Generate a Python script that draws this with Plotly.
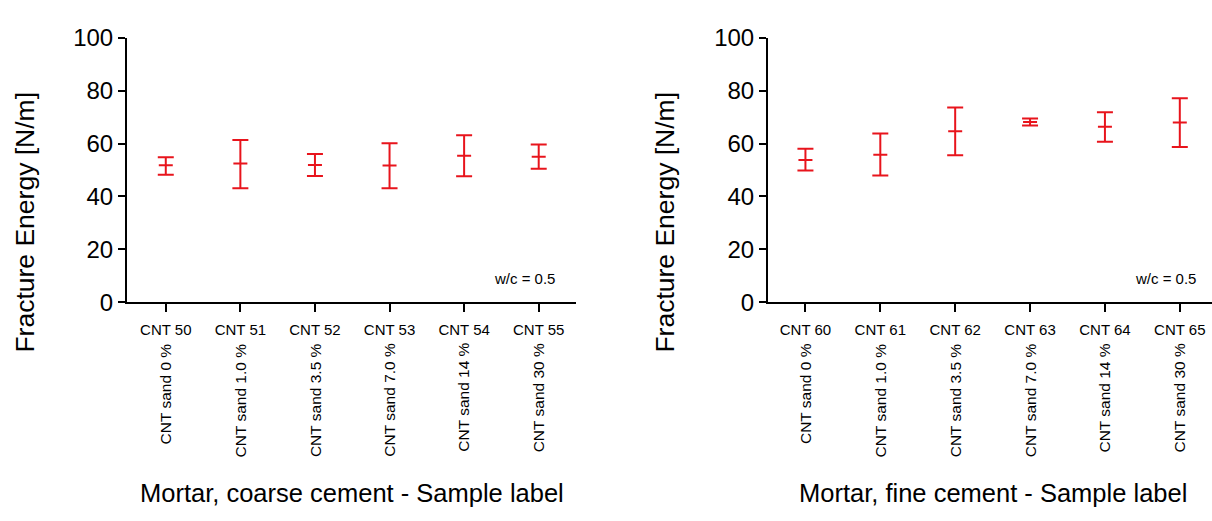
import plotly.graph_objects as go

# ---- data ----
coarse_labels = ["CNT 50", "CNT 51", "CNT 52", "CNT 53", "CNT 54", "CNT 55"]
coarse_sub = ["CNT sand 0 %", "CNT sand 1.0 %", "CNT sand 3.5 %", "CNT sand 7.0 %", "CNT sand 14 %", "CNT sand 30 %"]
coarse_mean = [51.8, 52.4, 51.9, 51.7, 55.4, 55.0]
coarse_upper = [54.8, 61.3, 56.0, 60.1, 63.1, 59.6]
coarse_lower = [48.2, 43.1, 47.7, 43.1, 47.6, 50.5]

fine_labels = ["CNT 60", "CNT 61", "CNT 62", "CNT 63", "CNT 64", "CNT 65"]
fine_sub = ["CNT sand 0 %", "CNT sand 1.0 %", "CNT sand 3.5 %", "CNT sand 7.0 %", "CNT sand 14 %", "CNT sand 30 %"]
fine_mean = [53.8, 55.8, 64.6, 68.1, 66.3, 67.9]
fine_upper = [58.0, 63.8, 73.6, 69.5, 71.8, 77.1]
fine_lower = [49.8, 47.9, 55.6, 66.8, 60.7, 58.7]

y_ticks = [0, 20, 40, 60, 80, 100]

RED = "#E8141C"
FONT = "Liberation Sans, Arial, sans-serif"
W, H = 1212, 521


def px_y(p):
    return 1 - p / H


def trace(labels, mean, upper, lower, xa, ya):
    return go.Scatter(
        x=labels, y=mean, xaxis=xa, yaxis=ya, mode="markers",
        marker=dict(symbol="line-ew", size=10, color=RED, line=dict(color=RED, width=2)),
        error_y=dict(type="data", symmetric=False,
                     array=[u - m for u, m in zip(upper, mean)],
                     arrayminus=[m - l for m, l in zip(mean, lower)],
                     color=RED, thickness=2, width=8),
        showlegend=False, hoverinfo="skip",
    )


fig = go.Figure()
fig.add_trace(trace(coarse_labels, coarse_mean, coarse_upper, coarse_lower, "x", "y"))
fig.add_trace(trace(fine_labels, fine_mean, fine_upper, fine_lower, "x2", "y2"))

ydom = [px_y(304), px_y(25)]
xcommon = dict(type="category", showline=True, linecolor="black", linewidth=2,
               ticks="outside", ticklen=8, tickwidth=2, tickcolor="black",
               showgrid=False, zeroline=False, ticklabelstandoff=5,
               tickfont=dict(family=FONT, size=15, color="black"))
ycommon = dict(range=[0, 100], tickvals=y_ticks, showline=True, linecolor="black", linewidth=2,
               ticks="outside", ticklen=7, tickwidth=2, tickcolor="black",
               showgrid=False, zeroline=False, domain=ydom,
               tickfont=dict(family=FONT, size=24, color="black"))

fig.update_layout(
    width=W, height=H, margin=dict(l=0, r=0, t=0, b=0),
    paper_bgcolor="white", plot_bgcolor="white",
    xaxis=dict(domain=[127 / W, 576 / W], range=[-0.52, 5.5], anchor="y", **xcommon),
    yaxis=dict(anchor="x", **ycommon),
    xaxis2=dict(domain=[768 / W, 1.0], range=[-0.5, 5.43], anchor="y2", **xcommon),
    yaxis2=dict(anchor="x2", **ycommon),
)

ann = []
for xr, labels, subs in [("x", coarse_labels, coarse_sub), ("x2", fine_labels, fine_sub)]:
    for lab, s in zip(labels, subs):
        ann.append(dict(x=lab, xref=xr, y=px_y(345), yref="paper", text=s, textangle=-90,
                        showarrow=False, xanchor="center", yanchor="top",
                        font=dict(family=FONT, size=15.5, color="black")))
    ann.append(dict(x=4.81, xref=xr, y=px_y(279), yref="paper", text="w/c = 0.5",
                    showarrow=False, xanchor="center", yanchor="middle",
                    font=dict(family=FONT, size=15, color="black")))

for xp in [25, 665]:
    ann.append(dict(x=xp / W, xref="paper", y=px_y(220), yref="paper", text="Fracture Energy [N/m]",
                    textangle=-90, showarrow=False, xanchor="center", yanchor="middle",
                    font=dict(family=FONT, size=26.5, color="black")))

ann.append(dict(x=352 / W, xref="paper", y=px_y(505), yref="paper",
                text="Mortar, coarse cement - Sample label", showarrow=False,
                xanchor="center", yanchor="middle", font=dict(family=FONT, size=25.5, color="black")))
ann.append(dict(x=993 / W, xref="paper", y=px_y(505), yref="paper",
                text="Mortar, fine cement - Sample label", showarrow=False,
                xanchor="center", yanchor="middle", font=dict(family=FONT, size=25.5, color="black")))

fig.update_layout(annotations=ann)
fig.write_html("out.html")
